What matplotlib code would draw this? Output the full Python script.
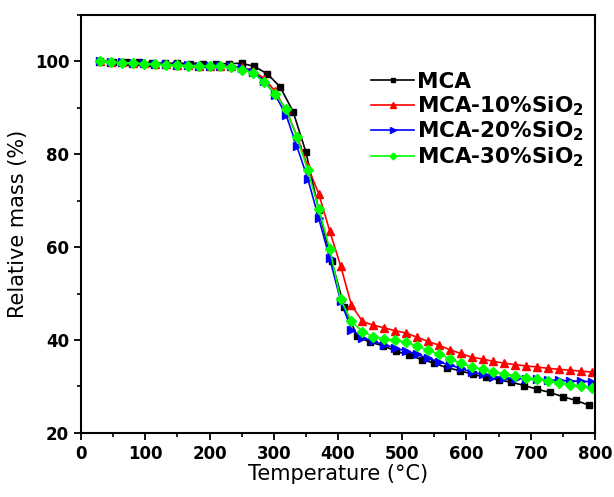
import matplotlib
matplotlib.use('Agg')
import matplotlib.pyplot as plt
from matplotlib.ticker import MultipleLocator

# temperatures (°C) at which each run was sampled
temp_mca = [30, 50, 70, 90, 110, 130, 150, 170, 190, 210, 230, 250, 270, 290,
            310, 330, 350, 370, 390, 410, 430, 450, 470, 490, 510, 530, 550,
            570, 590, 610, 630, 650, 670, 690, 710, 730, 750, 770, 790]
temp_sio2 = [30, 47, 64, 81, 98, 115, 132, 149, 166, 183, 200, 217, 234, 251,
             268, 285, 302, 319, 336, 353, 370, 387, 404, 421, 438, 455, 472,
             489, 506, 523, 540, 557, 574, 591, 608, 625, 642, 659, 676, 693,
             710, 727, 744, 761, 778, 795]

# relative mass (%)
mass_mca = [100.0, 99.9, 99.8, 99.8, 99.7, 99.6, 99.6, 99.5, 99.5, 99.5, 99.5,
            99.6, 98.9, 97.3, 94.5, 89.2, 80.5, 68.0, 57.0, 47.0, 40.8, 39.5,
            38.8, 37.6, 36.8, 35.8, 35.0, 34.0, 33.4, 32.6, 32.0, 31.4, 30.9,
            30.2, 29.4, 28.7, 27.8, 27.0, 26.0]
mass_10 = [100.0, 99.9, 99.8, 99.7, 99.6, 99.5, 99.4, 99.3, 99.2, 99.1, 99.1,
           99.0, 99.0, 98.7, 98.0, 96.3, 93.6, 89.5, 84.0, 77.3, 71.5, 63.5,
           56.0, 47.5, 44.0, 43.2, 42.6, 42.0, 41.5, 40.6, 39.7, 38.9, 37.9,
           37.1, 36.3, 35.9, 35.4, 35.0, 34.7, 34.4, 34.2, 33.9, 33.7, 33.5,
           33.3, 33.1]
mass_20 = [100.0, 99.9, 99.8, 99.7, 99.6, 99.5, 99.4, 99.3, 99.2, 99.1, 99.0,
           99.0, 98.9, 98.6, 97.7, 95.8, 92.8, 88.5, 81.7, 74.7, 66.2, 57.6,
           48.5, 42.2, 40.5, 39.7, 39.0, 38.3, 37.6, 36.9, 36.1, 35.3, 34.6,
           33.9, 33.1, 32.6, 32.1, 31.9, 31.7, 31.6, 31.5, 31.4, 31.3, 31.2,
           31.1, 31.0]
mass_30 = [100.0, 99.9, 99.7, 99.6, 99.5, 99.4, 99.3, 99.2, 99.1, 99.0, 98.9,
           98.9, 98.8, 98.2, 97.5, 95.5, 93.0, 89.8, 83.7, 76.5, 68.2, 59.7,
           48.8, 44.0, 41.8, 40.7, 40.2, 39.9, 39.5, 38.7, 37.8, 37.0, 36.0,
           35.0, 34.2, 33.7, 33.2, 32.7, 32.3, 31.9, 31.6, 31.2, 30.8, 30.4,
           30.0, 29.6]

labels = ['MCA', 'MCA-10%SiO$_\\mathbf{2}$', 'MCA-20%SiO$_\\mathbf{2}$',
          'MCA-30%SiO$_\\mathbf{2}$']

plt.rcParams['font.family'] = ['DejaVu Sans']
plt.rcParams['mathtext.default'] = 'bf'

fig = plt.figure(figsize=(6.14, 4.97), dpi=100)
ax = fig.add_axes([0.132, 0.129, 0.837, 0.841])

ax.plot(temp_mca, mass_mca, color='black', marker='s', ms=5, lw=1.2,
        label=labels[0])
ax.plot(temp_sio2, mass_10, color='#ff0000', marker='^', ms=6, lw=1.2,
        label=labels[1])
ax.plot(temp_sio2, mass_20, color='#0000ff', marker='>', ms=6, lw=1.2,
        label=labels[2])
ax.plot(temp_sio2, mass_30, color='#00ff00', marker='D', ms=5, lw=1.2,
        label=labels[3])

ax.set_xlim(0, 800)
ax.set_ylim(20, 110)
ax.set_xticks(range(0, 801, 100))
ax.set_yticks(range(20, 101, 20))
ax.xaxis.set_minor_locator(MultipleLocator(50))
ax.yaxis.set_minor_locator(MultipleLocator(10))
ax.tick_params(which='major', direction='out', length=5, width=1.3,
               labelsize=12, top=False, right=False)
ax.tick_params(which='minor', direction='out', length=3, width=1.2,
               top=False, right=False)
for lbl in ax.get_xticklabels() + ax.get_yticklabels():
    lbl.set_fontweight('bold')
for sp in ax.spines.values():
    sp.set_linewidth(1.5)

ax.set_xlabel('Temperature (°C)', fontsize=15, labelpad=1)
ax.set_ylabel('Relative mass (%)', fontsize=15, labelpad=5)

leg = ax.legend(loc='upper right', bbox_to_anchor=(1.015, 0.91), frameon=False,
                prop={'weight': 'bold', 'size': 15.5}, handlelength=2.0,
                handletextpad=0.1, labelspacing=0.1, markerscale=0.7)

fig.savefig('out.png', dpi=100)
